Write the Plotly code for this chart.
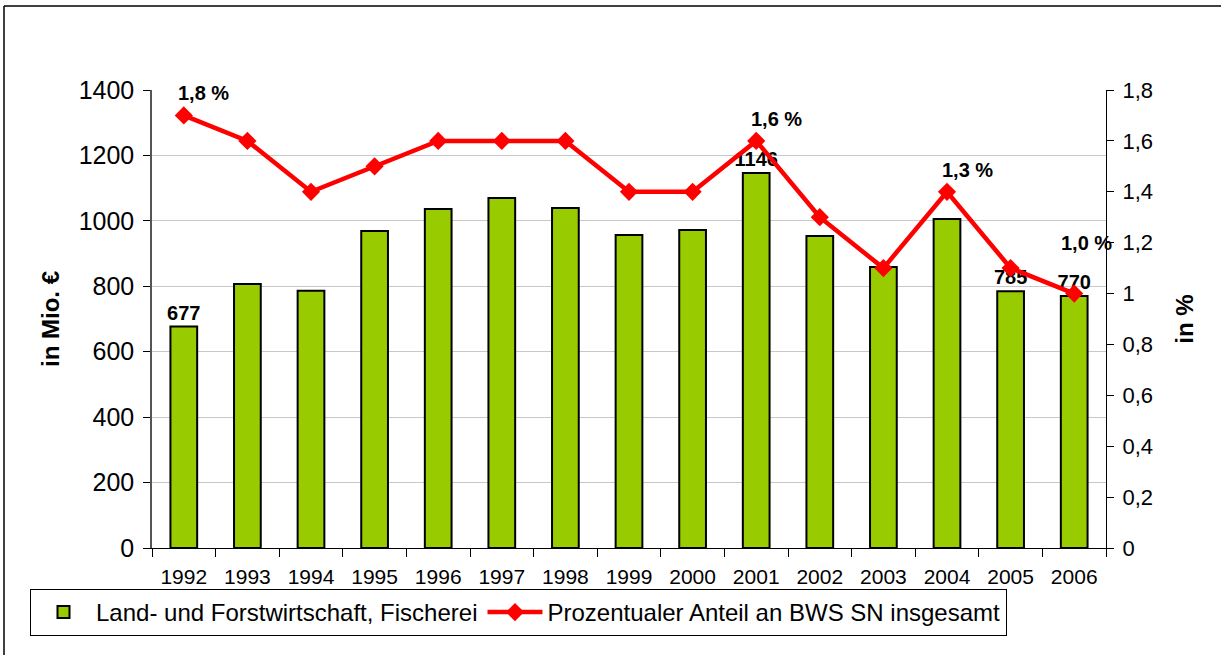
import plotly.graph_objects as go

years = ["1992", "1993", "1994", "1995", "1996", "1997", "1998", "1999",
         "2000", "2001", "2002", "2003", "2004", "2005", "2006"]
value_mio = [677, 807, 786, 969, 1036, 1070, 1039, 957, 972, 1146, 954, 859, 1006, 785, 770]
share_pct = [1.7, 1.6, 1.4, 1.5, 1.6, 1.6, 1.6, 1.4, 1.4, 1.6, 1.3, 1.1, 1.4, 1.1, 1.0]
bar_labels = ["677", "", "", "", "", "", "", "", "", "1146", "", "", "", "785", "770"]
line_labels = ["1,8 %", "", "", "", "", "", "", "", "", "1,6 %", "", "", "1,3 %", "", "1,0 %"]
left_ticks = [0, 200, 400, 600, 800, 1000, 1200, 1400]
right_ticks = [0, 0.2, 0.4, 0.6, 0.8, 1.0, 1.2, 1.4, 1.6, 1.8]
right_ticktext = ["0", "0,2", "0,4", "0,6", "0,8", "1", "1,2", "1,4", "1,6", "1,8"]

W, H = 1221, 655
L, R, T, B = 152, 115, 90, 107
pw, ph = W - L - R, H - T - B

def px_x(x):
    return (x - L) / pw

def px_y(y):
    return (H - B - y) / ph

fig = go.Figure()
fig.add_trace(go.Bar(
    x=years, y=value_mio, name="Land- und Forstwirtschaft, Fischerei",
    marker=dict(color="#99CC00", line=dict(color="black", width=2)),
    width=0.42, text=bar_labels, textposition="outside", constraintext="none",
    textfont=dict(family="Arial", size=20, color="black", weight="bold"),
    cliponaxis=False, yaxis="y",
))
fig.add_trace(go.Scatter(
    x=years, y=share_pct, name="Prozentualer Anteil an BWS SN insgesamt",
    mode="lines+markers", yaxis="y2",
    line=dict(color="#FF0000", width=4.5),
    marker=dict(symbol="diamond", size=14, color="#FF0000"),
    cliponaxis=False,
))

# percentage labels above selected points of the line (x given as category index)
for idx, (yr, val, lab) in enumerate(zip(years, share_pct, line_labels)):
    if not lab:
        continue
    last = idx == len(years) - 1
    fig.add_annotation(
        x=idx, y=val, xref="x", yref="y2", text=lab, showarrow=False,
        xshift=12 if last else 20, yshift=38 if last else 9, yanchor="bottom",
        font=dict(family="Arial", size=20, color="black", weight="bold"),
    )

fig.update_layout(
    width=W, height=H,
    margin=dict(l=L, r=R, t=T, b=B, autoexpand=False),
    paper_bgcolor="white", plot_bgcolor="white",
    font=dict(family="Arial", color="black"),
    xaxis=dict(
        type="category", range=[-0.5, len(years) - 0.5],
        showline=True, linecolor="black", linewidth=1,
        ticks="outside", tickson="boundaries", ticklen=8, tickcolor="black",
        tickfont=dict(size=21), showgrid=False, tickangle=0,
        ticklabelstandoff=10,
    ),
    yaxis=dict(
        range=[0, 1400], tickvals=left_ticks, ticktext=[str(v) for v in left_ticks],
        showgrid=True, gridcolor="#C8C8C8", gridwidth=1,
        showline=True, linecolor="#555555", linewidth=1.5,
        ticks="outside", ticklen=7, tickcolor="black",
        tickfont=dict(size=25), ticklabelstandoff=4,
        title=dict(text="in Mio. €", font=dict(size=24, weight="bold"), standoff=12),
        zeroline=False,
    ),
    yaxis2=dict(
        range=[0, 1.8], overlaying="y", side="right",
        tickvals=right_ticks, ticktext=right_ticktext,
        showgrid=False, showline=True, linecolor="black", linewidth=1,
        ticks="outside", ticklen=7, tickcolor="black",
        tickfont=dict(size=22), ticklabelstandoff=4,
        title=dict(text="in %", font=dict(size=24, weight="bold"), standoff=24),
        zeroline=False,
    ),
    legend=dict(
        orientation="h", x=px_x(30), y=px_y(589), xanchor="left", yanchor="top",
        bordercolor="black", borderwidth=1, bgcolor="white",
        font=dict(size=24), itemwidth=55, tracegroupgap=0,
    ),
    showlegend=True,
)

fig.add_shape(type="line", xref="paper", yref="paper",
              x0=px_x(4), x1=px_x(1221), y0=px_y(6), y1=px_y(6),
              line=dict(color="black", width=1.5))
fig.add_shape(type="line", xref="paper", yref="paper",
              x0=px_x(4), x1=px_x(4), y0=px_y(6), y1=px_y(655),
              line=dict(color="black", width=1.5))

fig.write_html("out.html", config={"displayModeBar": False},
               post_script="document.body.style.margin='0';")
